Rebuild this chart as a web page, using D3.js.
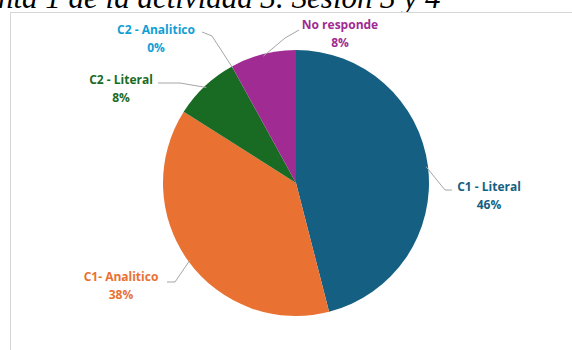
<!DOCTYPE html>
<html>
<head>
<meta charset="utf-8">
<script src="https://cdn.jsdelivr.net/npm/d3@7"></script>
<style>
  body { margin: 0; background: #fff; overflow: hidden; }
  svg { display: block; }
</style>
</head>
<body>
<div class="canvas"></div>
<script>
// chart values
const categories = ['C1 - Literal', 'C1- Analitico', 'C2 - Literal', 'C2 - Analitico', 'No responde']
const percents = [46, 38, 8, 0, 8]
const sliceColors = ['#156082', '#e97132', '#196b24', '#0f9ed5', '#a02b93']
const titleText = 'nta 1 de la actividad 3. Sesión 3 y 4'

// where each label sits and where its leader line bends
const labelPos = [
  {x: 489, y: 191, bend: [445, 190], end: [452, 190]},
  {x: 121, y: 281, bend: [175, 282], end: [167, 282]},
  {x: 121, y: 84,  bend: [180, 83],  end: [158, 83]},
  {x: 156, y: 34,  bend: [212, 36],  end: [202, 32]},
  {x: 340, y: 29,  bend: [285, 38],  end: [299, 30]}
]

const width = 572, height = 350
const cx = 296, cy = 183, radius = 133

const svg = d3.select('.canvas')
  .append('svg')
  .attr('width', width)
  .attr('height', height)

svg.append('text')
  .attr('x', -2)
  .attr('y', 8)
  .attr('font-family', 'Liberation Serif, Times New Roman, serif')
  .attr('font-style', 'italic')
  .attr('font-size', 31)
  .attr('fill', '#000')
  .text(titleText)

svg.append('rect')
  .attr('x', 10.5)
  .attr('y', 12.5)
  .attr('width', 700)
  .attr('height', 500)
  .attr('fill', '#fff')
  .attr('stroke', '#d6d6d6')

const data = categories.map((name, i) => ({name, value: percents[i], color: sliceColors[i], pos: labelPos[i]}))

const pie = d3.pie().sort(null).value(d => d.value)
const arcs = pie(data)
const arc = d3.arc().innerRadius(0).outerRadius(radius)

const graph = svg.append('g')
  .attr('transform', `translate(${cx}, ${cy})`)

graph.selectAll('path')
  .data(arcs)
  .enter().append('path')
  .attr('d', arc)
  .attr('fill', d => d.data.color)

// leader lines
const edgePoint = (d, r) => {
  const a = (d.startAngle + d.endAngle) / 2
  return [cx + r * Math.sin(a), cy - r * Math.cos(a)]
}

svg.selectAll('polyline.leader')
  .data(arcs)
  .enter().append('polyline')
  .attr('class', 'leader')
  .attr('points', d => [edgePoint(d, radius - 2), d.data.pos.bend, d.data.pos.end].join(' '))
  .attr('fill', 'none')
  .attr('stroke', '#a6a6a6')
  .attr('stroke-width', 1)

const labels = svg.selectAll('text.label')
  .data(arcs)
  .enter().append('text')
  .attr('class', 'label')
  .attr('text-anchor', 'middle')
  .attr('font-family', 'Open Sans, sans-serif')
  .attr('font-weight', 'bold')
  .attr('font-size', 12)
  .attr('fill', d => d.data.color)

labels.append('tspan')
  .attr('x', d => d.data.pos.x)
  .attr('y', d => d.data.pos.y)
  .text(d => d.data.name)

labels.append('tspan')
  .attr('x', d => d.data.pos.x)
  .attr('y', d => d.data.pos.y + 18)
  .text(d => `${d.data.value}%`)
</script>
</body>
</html>
